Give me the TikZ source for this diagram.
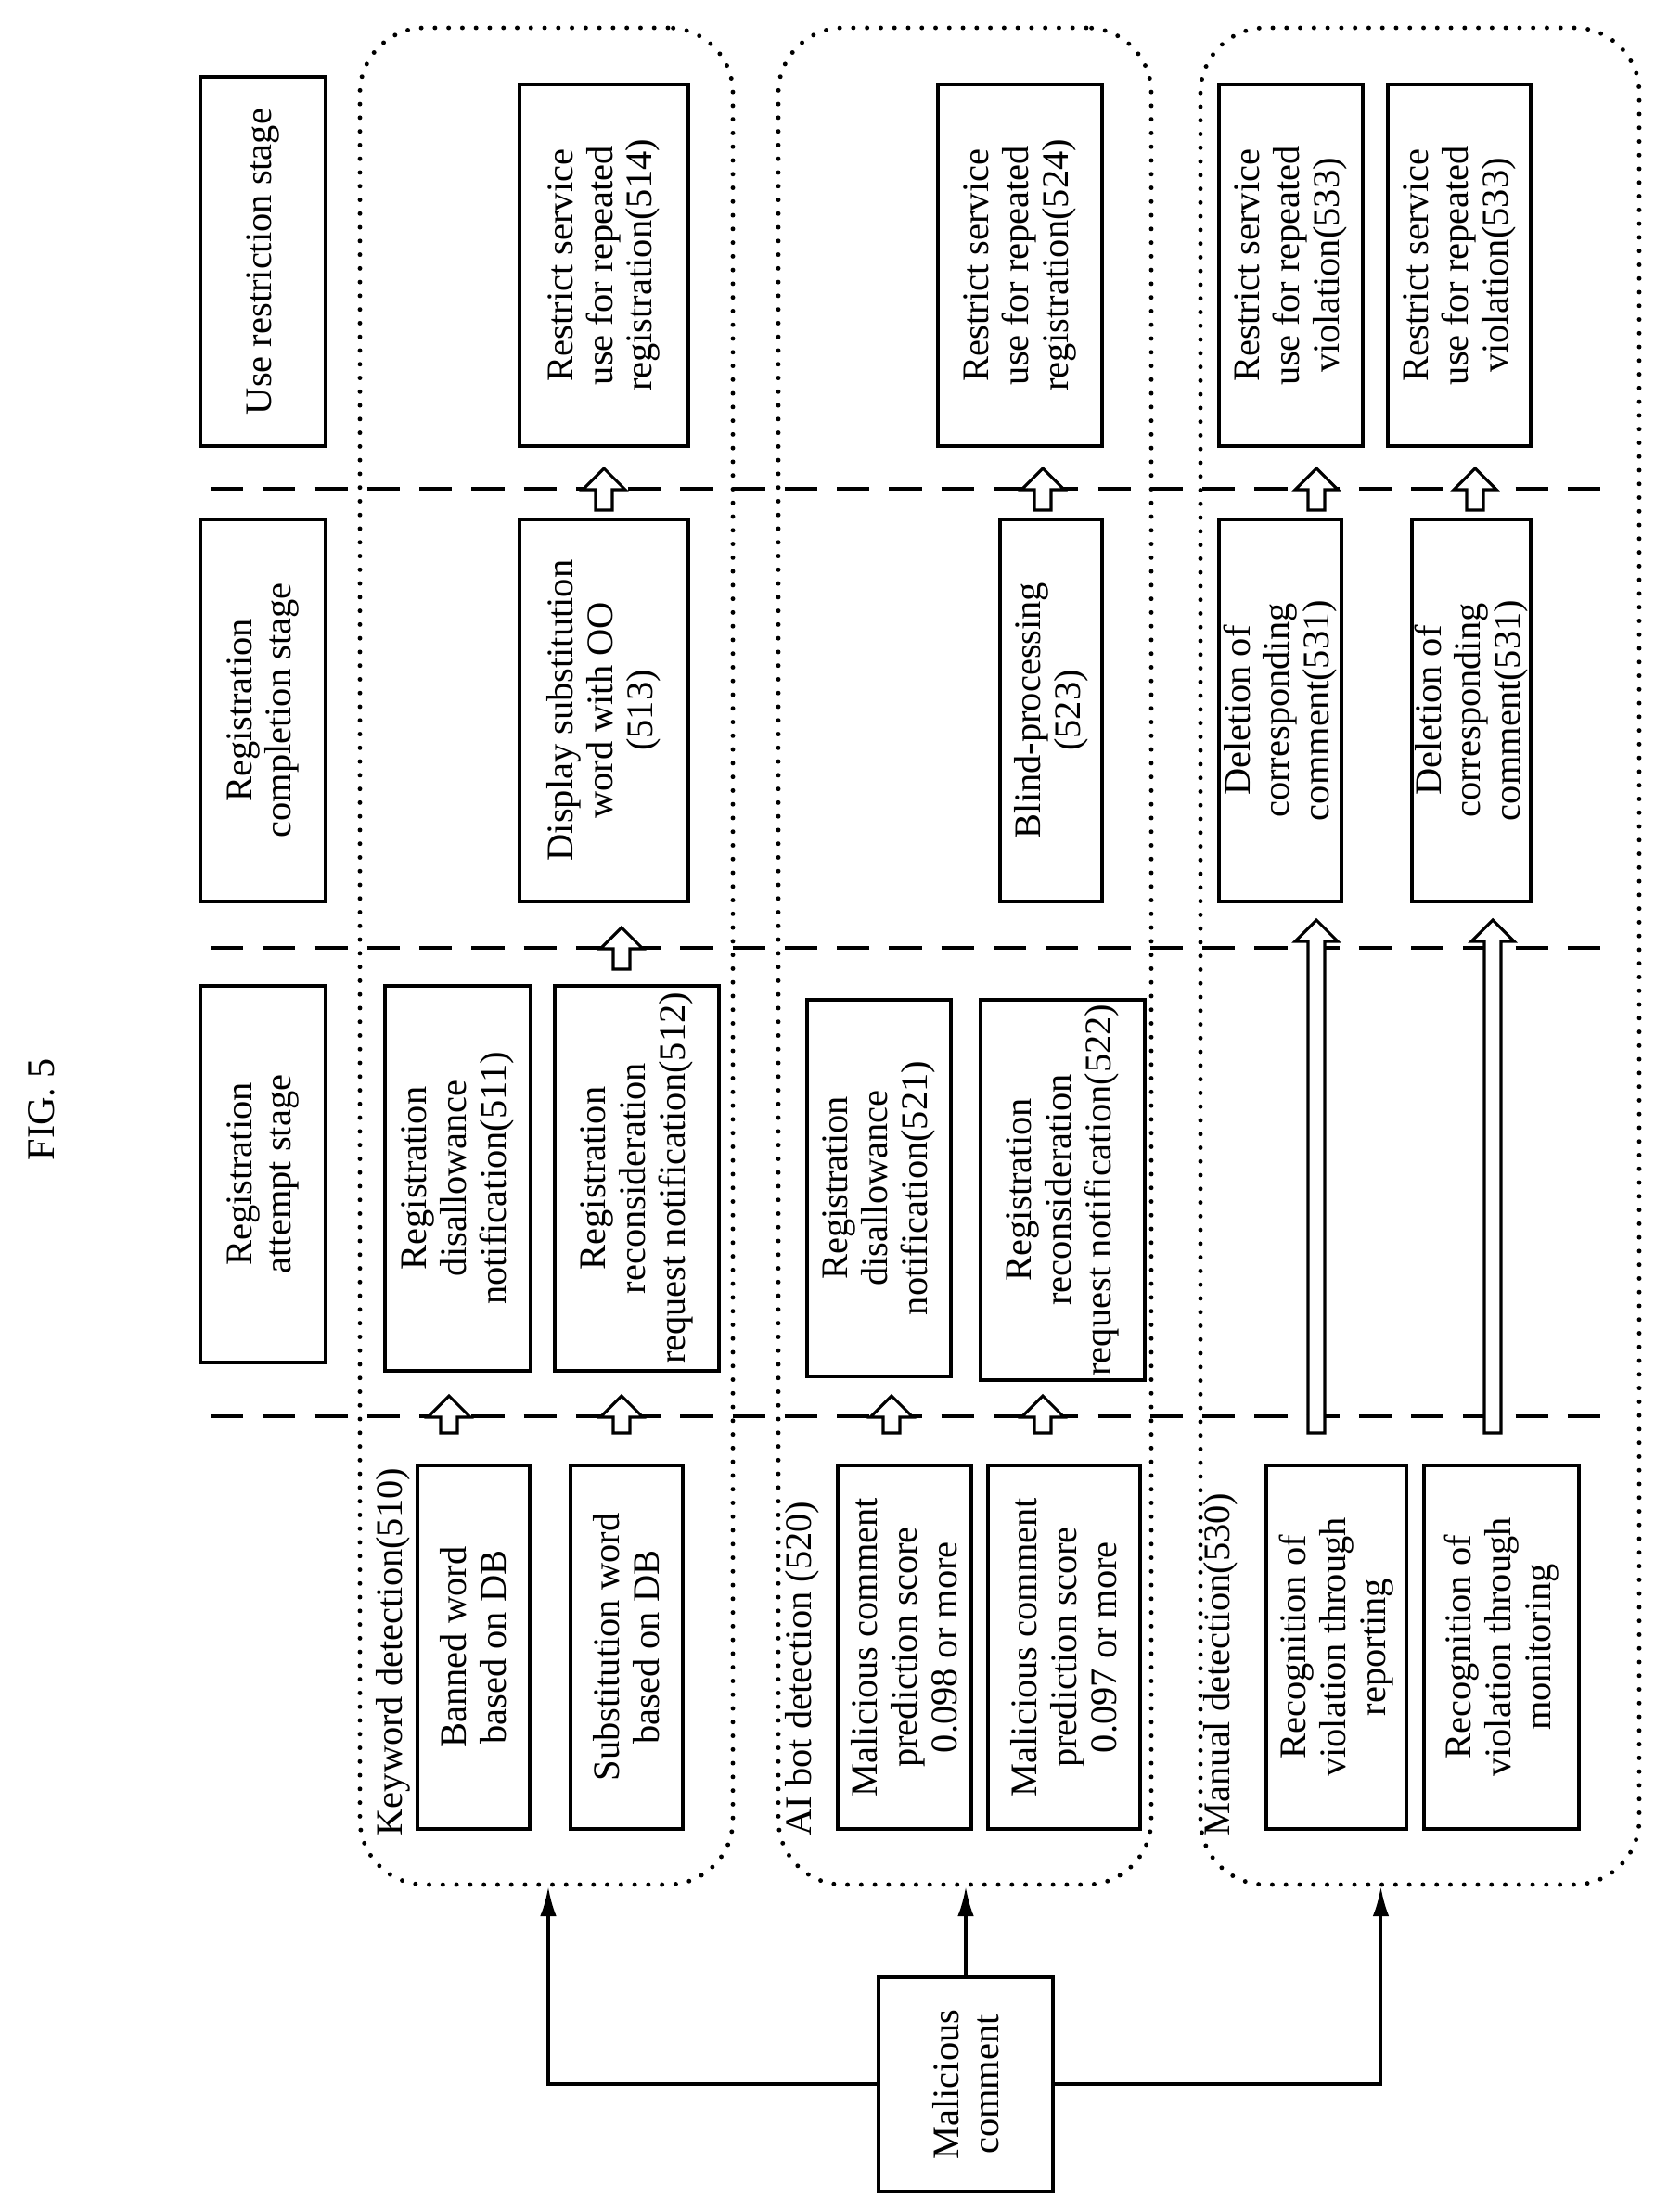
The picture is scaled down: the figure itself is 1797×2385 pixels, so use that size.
\documentclass[tikz,border=0pt]{standalone}
\usepackage{fontspec}
\setmainfont{Liberation Serif}
\usetikzlibrary{calc,arrows.meta}
\newcommand\bx[6]{\node[box,minimum width={(#5-#4)*0.01cm},minimum height={(#3-#2)*0.01cm}] (#1) at ({(#2+#3)/2},{(#4+#5)/2}) {#6};}
\newcommand\grp[5]{\node[grpbox,minimum width={(#3-#2)*0.01cm},minimum height={(#5-#4)*0.01cm}] (#1) at ({(#2+#3)/2},{(#4+#5)/2}) {};}
\newcommand\barrow[3]{\draw[line width=0.9pt,fill=white] (#1-9,#2) -- (#1-9,#3+23) -- (#1-23,#3+23) -- (#1,#3) -- (#1+23,#3+23) -- (#1+9,#3+23) -- (#1+9,#2) -- cycle;}
\tikzset{
 box/.style={draw,line width=0.9pt,rotate=90,align=center,inner sep=0pt,font=\fontsize{11.5}{12.2}\selectfont},
 grpbox/.style={draw,line width=1.4pt,dash pattern=on 0pt off 4.2pt,line cap=round,rounded corners=0.7cm,inner sep=0pt},
 glabel/.style={rotate=90,anchor=west,inner sep=0pt,font=\fontsize{11.5}{12.2}\selectfont},
 dline/.style={line width=0.9pt,dash pattern=on 10pt off 6pt},
 conn/.style={line width=0.9pt,-{Latex[length=9pt,width=5pt]}}
}
\begin{document}
\begin{tikzpicture}[x=0.01cm,y=-0.01cm]
\useasboundingbox (0,0) rectangle (1797,2385);
\node[rotate=90,font=\fontsize{12}{14}\selectfont] (fig) at (45,1196) {FIG. 5};
% dashed stage separators
\coordinate (d1a) at (227,1527); \coordinate (d1b) at (1726,1527);
\coordinate (d2a) at (227,1022); \coordinate (d2b) at (1726,1022);
\coordinate (d3a) at (227,527);  \coordinate (d3b) at (1726,527);
\draw[dline] (d1a) -- (d1b); \draw[dline] (d2a) -- (d2b); \draw[dline] (d3a) -- (d3b);
% groups
\grp{g1}{388}{790}{30}{2032}
\grp{g2}{839}{1241}{30}{2032}
\grp{g3}{1294}{1767}{30}{2032}
% headers
\bx{h1}{216}{351}{83}{481}{Use restriction stage}
\bx{h2}{216}{351}{560}{972}{Registration\\completion stage}
\bx{h3}{216}{351}{1063}{1469}{Registration\\attempt stage}
% group labels
\node[glabel] (l1) at (424,1980) {Keyword detection(510)};
\node[glabel] (l2) at (865,1980) {AI bot detection (520)};
\node[glabel] (l3) at (1316,1980) {Manual detection(530)};
% group 1
\bx{b1}{450}{571}{1580}{1972}{Banned word\\based on DB}
\bx{b2}{615}{736}{1580}{1972}{Substitution word\\based on DB}
\bx{b511}{415}{572}{1063}{1478}{Registration\\disallowance\\notification(511)}
\bx{b512}{598}{775}{1063}{1478}{Registration\\reconsideration\\request notification(512)}
\bx{b513}{560}{742}{560}{972}{Display substitution\\word with OO\\(513)}
\bx{b514}{560}{742}{91}{481}{Restrict service\\use for repeated\\registration(514)}
% group 2
\bx{c1}{903}{1047}{1580}{1972}{Malicious comment\\prediction score\\0.098 or more}
\bx{c2}{1065}{1229}{1580}{1972}{Malicious comment\\prediction score\\0.097 or more}
\bx{b521}{870}{1025}{1078}{1484}{Registration\\disallowance\\notification(521)}
\bx{b522}{1057}{1234}{1078}{1488}{Registration\\reconsideration\\request notification(522)}
\bx{b523}{1078}{1188}{560}{972}{Blind-processing\\(523)}
\bx{b524}{1011}{1188}{91}{481}{Restrict service\\use for repeated\\registration(524)}
% group 3
\bx{m1}{1365}{1516}{1580}{1972}{Recognition of\\violation through\\reporting}
\bx{m2}{1535}{1702}{1580}{1972}{Recognition of\\violation through\\monitoring}
\bx{b531a}{1314}{1446}{560}{972}{Deletion of\\corresponding\\comment(531)}
\bx{b531b}{1522}{1650}{560}{972}{Deletion of\\corresponding\\comment(531)}
\bx{b533a}{1314}{1469}{91}{481}{Restrict service\\use for repeated\\violation(533)}
\bx{b533b}{1496}{1650}{91}{481}{Restrict service\\use for repeated\\violation(533)}
% block arrows
\barrow{484}{1545}{1505}
\barrow{670}{1545}{1505}
\barrow{670}{1045}{1000}
\barrow{651}{550}{505}
\barrow{961}{1545}{1505}
\barrow{1124}{1545}{1505}
\barrow{1124}{550}{505}
\barrow{1419}{1545}{992}
\barrow{1609}{1545}{992}
\barrow{1419}{550}{505}
\barrow{1590}{550}{505}
% malicious comment
\bx{mal}{947}{1135}{2132}{2363}{Malicious\\comment}
\coordinate (malT) at (1041,2132);
\coordinate (malL) at (947,2247);
\coordinate (malR) at (1135,2247);
\coordinate (j1) at ($(g1.south)+(2,0)$);
\coordinate (j3) at ($(g3.south)+(-42,0)$);
\draw[conn] (malT) -- (malT |- g2.south);
\draw[conn] (malL) -| (j1);
\draw[conn] (malR) -| (j3);
\end{tikzpicture}
\end{document}
